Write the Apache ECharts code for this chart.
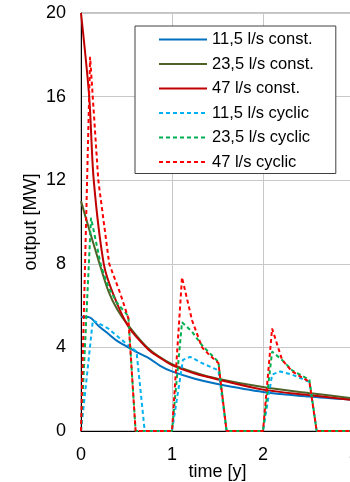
<!DOCTYPE html>
<html>
<head>
<meta charset="utf-8">
<script src="https://cdn.jsdelivr.net/npm/echarts@6/dist/echarts.min.js"></script>
<style>
  html, body { margin: 0; padding: 0; background: #fff; }
  #chart { width: 350px; height: 482px; }
</style>
</head>
<body>
<div id="chart"></div>
<script>
// series names (legend order)
const seriesNames = [
  '11,5 l/s const.', '23,5 l/s const.', '47 l/s const.',
  '11,5 l/s cyclic', '23,5 l/s cyclic', '47 l/s cyclic'
];

// [time in years, output in MW]
const const115 = [[0, 5.45], [0.08, 5.45], [0.2, 5.0], [0.3, 4.65], [0.4, 4.3], [0.52, 4.0], [0.6, 3.8],
  [0.74, 3.5], [0.87, 3.12], [1, 2.85], [1.25, 2.5], [1.5, 2.25], [2, 1.87], [2.5, 1.65], [3, 1.49]];
const const235 = [[0, 11], [0.1, 9.5], [0.19, 8.2], [0.3, 6.7], [0.4, 5.8], [0.52, 5.05], [0.74, 3.95],
  [1, 3.2], [1.25, 2.8], [1.5, 2.5], [2, 2.1], [2.5, 1.82], [3, 1.56]];
const const47 = [[0, 20], [0.09, 16], [0.14, 12], [0.25, 8], [0.35, 6.6], [0.52, 5.0], [0.74, 3.9],
  [0.87, 3.5], [1, 3.15], [1.25, 2.75], [1.53, 2.44], [2, 1.98], [2.5, 1.72], [3, 1.48]];

const cyc115 = [[0, 0], [0.02, 0], [0.13, 5.3], [0.3, 4.9], [0.52, 4.1], [0.61, 3.8], [0.7, 0], [1, 0],
  [1.12, 3.4], [1.2, 3.55], [1.33, 3.25], [1.51, 2.9], [1.6, 0], [2, 0],
  [2.1, 2.7], [2.19, 2.85], [2.32, 2.7], [2.51, 2.35], [2.59, 0], [3, 0]];
const cyc235 = [[0, 0], [0.01, 0], [0.11, 10.2], [0.22, 7.9], [0.3, 6.9], [0.4, 6.1], [0.52, 5.5], [0.6, 0], [1, 0],
  [1.11, 5.2], [1.22, 4.75], [1.33, 4.1], [1.51, 3.3], [1.6, 0], [2, 0],
  [2.1, 3.8], [2.21, 3.4], [2.32, 2.9], [2.51, 2.45], [2.59, 0], [3, 0]];
const cyc47 = [[0, 0], [0.01, 0], [0.1, 17.9], [0.19, 12], [0.31, 8], [0.43, 6.6], [0.52, 5.4], [0.6, 0], [1, 0],
  [1.11, 7.35], [1.22, 5.3], [1.33, 4.0], [1.42, 3.6], [1.51, 3.25], [1.6, 0], [2, 0],
  [2.1, 4.9], [2.21, 3.4], [2.32, 2.85], [2.51, 2.35], [2.59, 0], [3, 0]];

const seriesData = [const115, const235, const47, cyc115, cyc235, cyc47];
const seriesColors = ['#0070C0', '#4F6228', '#C00000', '#00B0F0', '#00B050', '#FF0000'];

const font = 'Liberation Sans, Arial, sans-serif';
const chart = echarts.init(document.getElementById('chart'));

const series = seriesData.map((data, i) => {
  const cyclic = i >= 3;
  return {
    name: seriesNames[i],
    type: 'line',
    data,
    symbol: 'none',
    smooth: cyclic ? false : 0.3,
    lineStyle: {
      color: seriesColors[i],
      width: 2,
      type: cyclic ? [4, 3] : 'solid'
    },
    itemStyle: { color: seriesColors[i] },
    animation: false
  };
});

chart.setOption({
  animation: false,
  grid: {
    left: 81, top: 13, width: 273, height: 418,
    outerBoundsMode: 'none',
    containLabel: false,
    show: true, borderColor: '#888', borderWidth: 1
  },
  legend: {
    data: seriesNames,
    orient: 'vertical',
    left: 135, top: 26,
    itemWidth: 48, itemHeight: 16, itemGap: 7.5,
    padding: [5, 22, 3, 23],
    backgroundColor: '#fff',
    borderColor: '#404040', borderWidth: 1,
    // hide the symbol drawn in the middle of the legend line
    itemStyle: { opacity: 0, borderWidth: 0 },
    textStyle: { fontFamily: font, fontSize: 16.5, color: '#000', lineHeight: 16 }
  },
  xAxis: {
    type: 'value',
    min: 0, max: 3, interval: 1,
    name: 'time [y]',
    nameLocation: 'middle',
    nameGap: 32,
    nameMoveOverlap: false,
    nameTextStyle: { fontFamily: font, fontSize: 18, color: '#000' },
    axisLabel: { fontFamily: font, fontSize: 18, color: '#000', margin: 15, showMaxLabel: true, hideOverlap: false },
    axisLine: { lineStyle: { color: '#000', width: 1 } },
    axisTick: { show: false },
    splitLine: { lineStyle: { color: '#c8c8c8', width: 1 } }
  },
  yAxis: {
    type: 'value',
    min: 0, max: 20, interval: 4,
    name: 'output [MW]',
    nameLocation: 'middle',
    nameGap: 41,
    nameMoveOverlap: false,
    nameTextStyle: { fontFamily: font, fontSize: 18, color: '#000' },
    axisLabel: { fontFamily: font, fontSize: 18, color: '#000', margin: 15 },
    axisLine: { show: true, lineStyle: { color: '#000', width: 1 } },
    axisTick: { show: false },
    splitLine: { lineStyle: { color: '#c8c8c8', width: 1 } }
  },
  series
});
</script>
</body>
</html>
